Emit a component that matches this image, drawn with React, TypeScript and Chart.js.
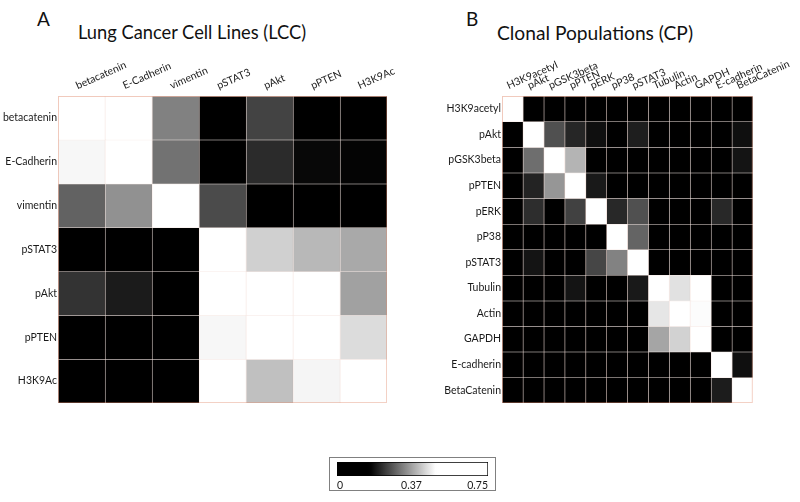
import React, { useEffect, useRef } from 'react';
import { Chart, registerables } from 'chart.js';

Chart.register(...registerables);

// ---------- data ----------
const lccLabels = ['betacatenin', 'E-Cadherin', 'vimentin', 'pSTAT3', 'pAkt', 'pPTEN', 'H3K9Ac'];
const lccValues: number[][] = [
  [0.75, 0.62, 0.33, 0.08, 0.25, 0.06, 0.04],
  [0.48, 0.75, 0.31, 0.10, 0.22, 0.175, 0.17],
  [0.29, 0.35, 0.75, 0.26, 0.12, 0.09, 0.07],
  [0.05, 0.07, 0.11, 0.75, 0.43, 0.40, 0.38],
  [0.23, 0.20, 0.13, 0.58, 0.75, 0.56, 0.37],
  [0.06, 0.04, 0.08, 0.48, 0.60, 0.75, 0.445],
  [0.03, 0.05, 0.09, 0.52, 0.41, 0.477, 0.75],
];

const cpLabels = ['H3K9acetyl', 'pAkt', 'pGSK3beta', 'pPTEN', 'pERK', 'pP38', 'pSTAT3', 'Tubulin', 'Actin', 'GAPDH', 'E-cadherin', 'BetaCatenin'];
const cpValues: number[][] = [
  [0.75, 0.05, 0.08, 0.06, 0.04, 0.07, 0.05, 0.03, 0.06, 0.04, 0.05, 0.07],
  [0.06, 0.75, 0.267, 0.213, 0.184, 0.09, 0.203, 0.07, 0.05, 0.06, 0.08, 0.184],
  [0.05, 0.305, 0.75, 0.394, 0.10, 0.08, 0.06, 0.05, 0.07, 0.04, 0.06, 0.19],
  [0.07, 0.21, 0.356, 0.75, 0.197, 0.06, 0.09, 0.05, 0.04, 0.06, 0.07, 0.05],
  [0.04, 0.222, 0.12, 0.248, 0.75, 0.216, 0.267, 0.06, 0.05, 0.07, 0.216, 0.08],
  [0.05, 0.07, 0.06, 0.10, 0.13, 0.75, 0.292, 0.04, 0.06, 0.05, 0.07, 0.06],
  [0.06, 0.19, 0.08, 0.11, 0.254, 0.331, 0.75, 0.05, 0.07, 0.06, 0.05, 0.04],
  [0.04, 0.06, 0.07, 0.19, 0.05, 0.08, 0.197, 0.75, 0.452, 0.58, 0.06, 0.05],
  [0.05, 0.04, 0.06, 0.07, 0.05, 0.06, 0.08, 0.458, 0.75, 0.486, 0.07, 0.06],
  [0.06, 0.05, 0.04, 0.06, 0.07, 0.05, 0.06, 0.375, 0.433, 0.75, 0.05, 0.07],
  [0.05, 0.06, 0.07, 0.05, 0.04, 0.06, 0.05, 0.07, 0.06, 0.05, 0.75, 0.184],
  [0.07, 0.05, 0.06, 0.04, 0.06, 0.05, 0.07, 0.06, 0.05, 0.06, 0.201, 0.75],
];

const colorbarTicks = [0, 0.37, 0.75];
const colorbarRange = [0, 0.75];
const colormapBlack = 0.165; // value at which the map leaves black
const colormapWhite = 0.49;  // value at which the map reaches white

const FONT = 'Lato, "Open Sans", sans-serif';
const LINE = 'rgba(200,110,80,0.15)';

function colorFor(v: number): string {
  let t = (v - colormapBlack) / (colormapWhite - colormapBlack);
  t = Math.max(0, Math.min(1, t));
  const g = Math.round(t * 255);
  return `rgb(${g},${g},${g})`;
}

const framePlugin = {
  id: 'gridFrame',
  afterDatasetsDraw(chart: any) {
    const { ctx, chartArea } = chart;
    ctx.save();
    ctx.strokeStyle = 'rgba(225,140,110,0.4)';
    ctx.lineWidth = 1;
    ctx.strokeRect(chartArea.left + 0.5, chartArea.top + 0.5, chartArea.right - chartArea.left - 1, chartArea.bottom - chartArea.top - 1);
    ctx.restore();
  },
};

function heatmapConfig(labels: string[], values: number[][], yWidth: number, padRight: number): any {
  const n = labels.length;
  return {
    type: 'bar',
    data: {
      labels,
      datasets: values.map((row, i) => ({
        label: labels[i],
        data: row.map(() => [i - 0.5, i + 0.5]),
        backgroundColor: row.map(colorFor),
        borderColor: LINE,
        borderWidth: { top: 1, left: 1, right: 0, bottom: 0 },
        borderSkipped: false,
        barPercentage: 1,
        categoryPercentage: 1,
        grouped: false,
        inflateAmount: 0.5,
      })),
    },
    options: {
      responsive: false,
      animation: false,
      devicePixelRatio: 1,
      layout: { padding: { left: 0, top: 0, right: padRight, bottom: 17 } },
      plugins: { legend: { display: false }, tooltip: { enabled: false }, title: { display: false } },
      scales: {
        x: {
          type: 'category',
          position: 'top',
          offset: true,
          grid: { display: false, drawTicks: false },
          border: { display: false },
          ticks: {
            autoSkip: false,
            minRotation: 24,
            maxRotation: 24,
            padding: 4,
            color: '#1a1a1a',
            font: { family: FONT, size: 10.5 },
          },
          afterFit(scale: any) { scale.height = 96; },
        },
        y: {
          type: 'linear',
          reverse: true,
          min: -0.5,
          max: n - 0.5,
          grid: { display: false, drawTicks: false },
          border: { display: false },
          afterBuildTicks(scale: any) { scale.ticks = labels.map((_, i) => ({ value: i })); },
          ticks: {
            padding: 1,
            color: '#1a1a1a',
            font: { family: FONT, size: 10.5 },
            callback: (v: number) => labels[Math.round(v)] ?? '',
          },
          afterFit(scale: any) { scale.width = yWidth; },
        },
      },
    },
    plugins: [framePlugin],
  };
}

function colorbarConfig(): any {
  return {
    type: 'bar',
    data: {
      labels: ['scale'],
      datasets: [{
        data: [colorbarRange],
        backgroundColor: (ctx: any) => {
          const chart = ctx.chart;
          const xs = chart.scales.x;
          if (!chart.chartArea || !xs) return '#888';
          const x0 = xs.getPixelForValue(colorbarRange[0]);
          const x1 = xs.getPixelForValue(colorbarRange[1]);
          const g = chart.ctx.createLinearGradient(x0, 0, x1, 0);
          const steps = 40;
          for (let k = 0; k <= steps; k++) {
            const v = colorbarRange[0] + (colorbarRange[1] - colorbarRange[0]) * (k / steps);
            g.addColorStop(k / steps, colorFor(v));
          }
          return g;
        },
        borderColor: '#000',
        borderWidth: 1,
        borderSkipped: false,
        barPercentage: 1,
        categoryPercentage: 1,
      }],
    },
    options: {
      indexAxis: 'y',
      responsive: false,
      animation: false,
      devicePixelRatio: 1,
      layout: { padding: { left: 7, top: 4, right: 7, bottom: 0 } },
      plugins: { legend: { display: false }, tooltip: { enabled: false } },
      scales: {
        x: {
          type: 'linear',
          min: colorbarRange[0],
          max: colorbarRange[1],
          grid: { display: false, drawTicks: false },
          border: { display: false },
          afterBuildTicks(scale: any) { scale.ticks = colorbarTicks.map((v) => ({ value: v })); },
          ticks: {
            align: 'inner',
            padding: 3,
            color: '#1a1a1a',
            font: { family: FONT, size: 10.5 },
            callback: (v: number) => String(v),
          },
          afterFit(scale: any) { scale.height = 14; },
        },
        y: { display: false },
      },
    },
  };
}

function ChartCanvas({ config, width, height, style }: { config: () => any; width: number; height: number; style: React.CSSProperties }) {
  const ref = useRef<HTMLCanvasElement | null>(null);
  useEffect(() => {
    if (!ref.current) return;
    const chart = new Chart(ref.current, config());
    return () => chart.destroy();
  }, []);
  return <canvas ref={ref} width={width} height={height} style={{ position: 'absolute', width, height, ...style }} />;
}

export default function App() {
  const text: React.CSSProperties = { position: 'absolute', fontFamily: FONT, color: '#111', whiteSpace: 'nowrap', lineHeight: 1 };
  return (
    <div style={{ position: 'absolute', left: 0, top: 0, width: 800, height: 502, background: '#fff', overflow: 'hidden' }}>
      <div style={{ ...text, left: 37, top: 9, fontSize: 19 }}>A</div>
      <div style={{ ...text, left: 78, top: 23, fontSize: 18.3 }}>Lung Cancer Cell Lines (LCC)</div>
      <div style={{ ...text, left: 466, top: 9, fontSize: 19 }}>B</div>
      <div style={{ ...text, left: 497, top: 23, fontSize: 19.2 }}>Clonal Populations (CP)</div>
      <ChartCanvas config={() => heatmapConfig(lccLabels, lccValues, 58, 53)} width={440} height={420} style={{ left: 0, top: 0 }} />
      <ChartCanvas config={() => heatmapConfig(cpLabels, cpValues, 62, 43)} width={360} height={420} style={{ left: 440, top: 0 }} />
      <div style={{ position: 'absolute', left: 329, top: 457, width: 165, height: 32, border: '1px solid #808080' }}>
        <ChartCanvas config={colorbarConfig} width={165} height={32} style={{ left: 0, top: 0 }} />
      </div>
    </div>
  );
}
